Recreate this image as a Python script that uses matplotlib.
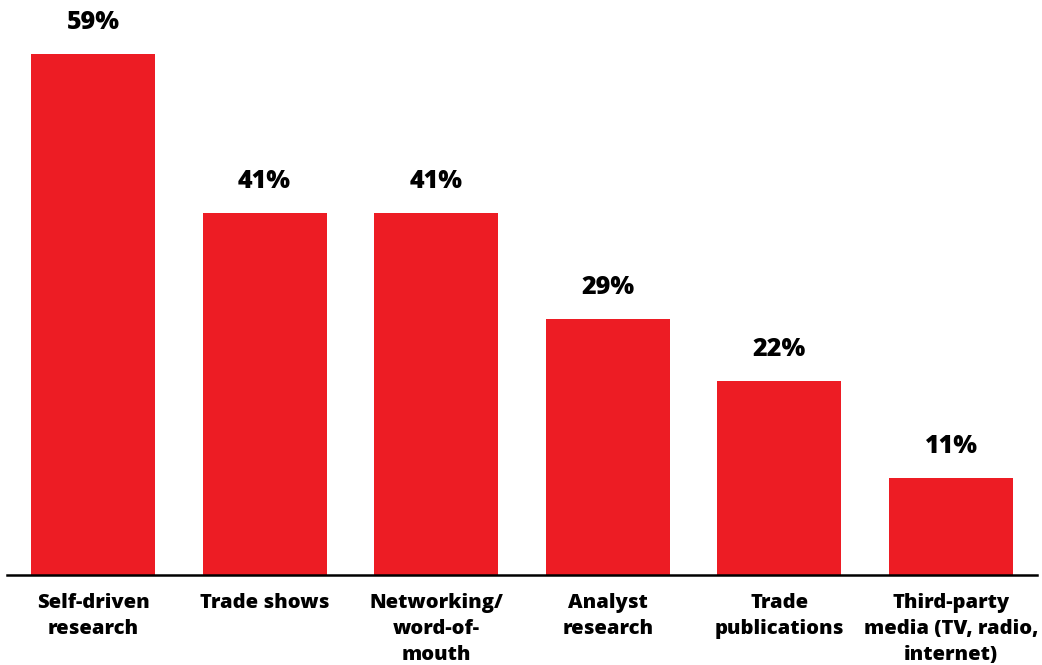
import matplotlib
matplotlib.use("Agg")
import matplotlib.pyplot as plt

plt.rcParams['font.family'] = ['Open Sans', 'DejaVu Sans']

# data
categories = ["Self-driven\nresearch", "Trade shows", "Networking/\nword-of-\nmouth",
              "Analyst\nresearch", "Trade\npublications", "Third-party\nmedia (TV, radio,\ninternet)"]
values = [59, 41, 41, 29, 22, 11]
value_labels = ["59%", "41%", "41%", "29%", "22%", "11%"]

bar_color = "#ED1C24"

fig = plt.figure(figsize=(10.42, 6.65), dpi=100)
ax = fig.add_axes([0, 0, 1, 1])

x = list(range(len(values)))
ax.bar(x, values, width=0.7226, color=bar_color, zorder=2)

# baseline
ax.axhline(0, xmin=7/1042, xmax=1037/1042, color="black", linewidth=1.8, zorder=3)

for xi, v, lab in zip(x, values, value_labels):
    ax.text(xi, v + 3.5, lab, ha="center", va="center",
            fontsize=18, fontweight="heavy", color="black")

for xi, cat in zip(x, categories):
    ax.text(xi, -2.05, cat, ha="center", va="top", fontsize=14.5,
            fontweight="heavy", color="black", linespacing=1.38)

ax.set_xlim(-0.542, 5.530)
ax.set_ylim(-10.19, 65.1)
ax.axis("off")

fig.savefig("out.png", dpi=100)
